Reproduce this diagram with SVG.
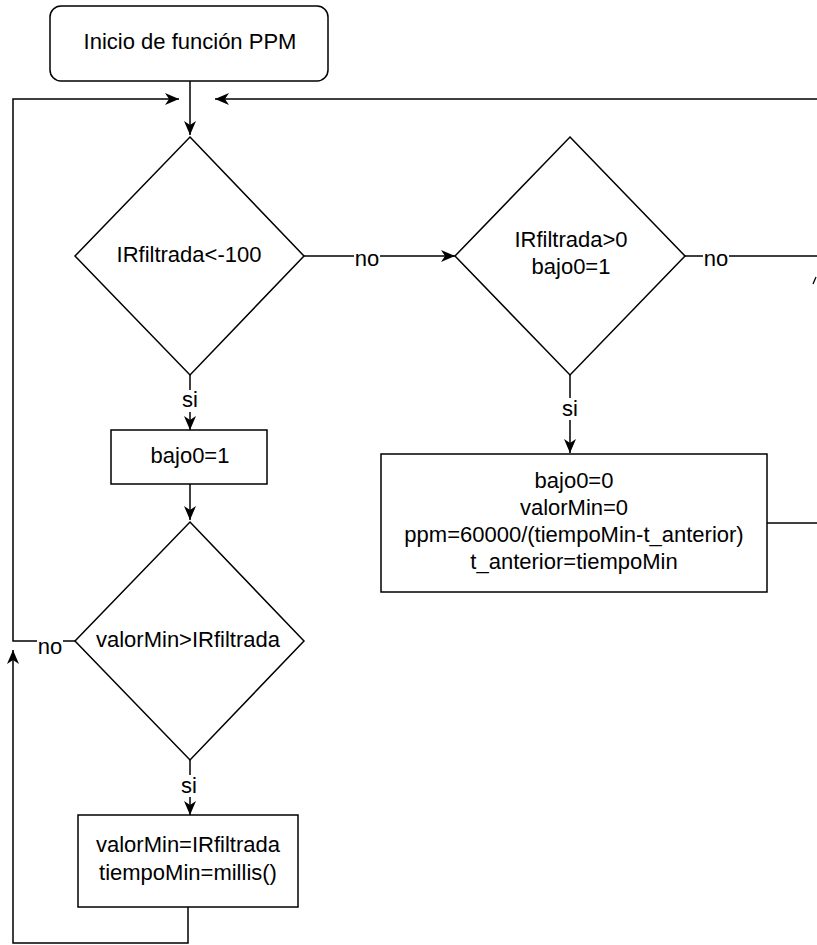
<svg xmlns="http://www.w3.org/2000/svg" width="817" height="945" viewBox="0 0 817 945">
<style>
text{font-family:"Liberation Sans",Arial,sans-serif;font-size:22px;fill:#000;text-anchor:middle}
.shape{fill:#fff;stroke:#000;stroke-width:1.5}
.edge{fill:none;stroke:#000;stroke-width:1.5}
.lbl{fill:#fff;stroke:none}
</style>
<defs>
<marker id="arr" viewBox="0 0 14 12" refX="14" refY="6" markerWidth="14" markerHeight="12" markerUnits="userSpaceOnUse" orient="auto">
<path d="M0,0 L14,6 L0,12 L4,6 Z" fill="#000"/>
</marker>
</defs>
<rect width="817" height="945" fill="#fff"/>
<g id="connectors">
<path class="edge" d="M190,81 L190,135" marker-end="url(#arr)"/>
<path class="edge" d="M75,641 L13,641 L13,99 L179,99" marker-end="url(#arr)"/>
<path class="edge" d="M817,99 L215,99" marker-end="url(#arr)"/>
<path class="edge" d="M188,907 L188,943 L13,943 L13,650" marker-end="url(#arr)"/>
<path class="edge" d="M190,375 L190,430" marker-end="url(#arr)"/>
<path class="edge" d="M190,484 L190,520" marker-end="url(#arr)"/>
<path class="edge" d="M190,760 L190,815" marker-end="url(#arr)"/>
<path class="edge" d="M304,256 L455,256" marker-end="url(#arr)"/>
<path class="edge" d="M685,256 L817,256"/>
<path class="edge" d="M570,375 L570,453" marker-end="url(#arr)"/>
<path class="edge" d="M767,523 L817,523"/>
<path d="M813,284 L816,277" stroke="#000" stroke-width="1.3" fill="none"/>
<rect class="lbl" x="178" y="390" width="24" height="22"/>
<text x="190" y="407">si</text>
<rect class="lbl" x="178" y="775" width="24" height="22"/>
<text x="189" y="793">si</text>
<rect class="lbl" x="558" y="398" width="24" height="22"/>
<text x="570" y="416">si</text>
<rect class="lbl" x="354" y="246" width="26" height="20"/>
<text x="367" y="266">no</text>
<rect class="lbl" x="703" y="246" width="26" height="20"/>
<text x="716" y="266">no</text>
<rect class="lbl" x="37" y="633" width="26" height="20"/>
<text x="50" y="654">no</text>
</g>
<g id="start">
<rect class="shape" x="50" y="6" width="278" height="75" rx="11"/>
<text x="190" y="49">Inicio de función PPM</text>
</g>
<g id="dec1">
<polygon class="shape" points="190,137 304,256 190,375 75,256"/>
<text x="189" y="262">IRfiltrada&lt;-100</text>
</g>
<g id="bajo1">
<rect class="shape" x="111" y="430" width="156" height="54"/>
<text x="190" y="463">bajo0=1</text>
</g>
<g id="dec2">
<polygon class="shape" points="190,522 304,641 190,760 75,641"/>
<text x="188" y="647">valorMin&gt;IRfiltrada</text>
</g>
<g id="setmin">
<rect class="shape" x="78" y="815" width="220" height="92"/>
<text x="188" y="852">valorMin=IRfiltrada</text>
<text x="188" y="880">tiempoMin=millis()</text>
</g>
<g id="dec3">
<polygon class="shape" points="570,137 685,256 570,375 455,256"/>
<text x="571" y="247">IRfiltrada&gt;0</text>
<text x="571" y="274">bajo0=1</text>
</g>
<g id="calc">
<rect class="shape" x="381" y="454" width="386" height="138"/>
<text x="574" y="488">bajo0=0</text>
<text x="574" y="515">valorMin=0</text>
<text x="574" y="542">ppm=60000/(tiempoMin-t_anterior)</text>
<text x="574" y="569">t_anterior=tiempoMin</text>
</g>
</svg>
